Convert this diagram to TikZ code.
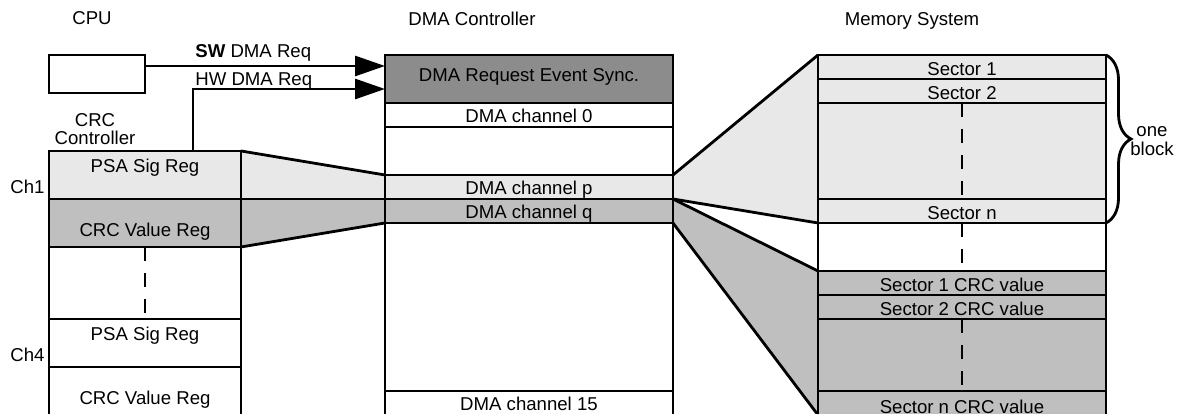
\documentclass[tikz,border=0pt]{standalone}
\usepackage{fontspec}
\setmainfont{Liberation Sans}
\usetikzlibrary{arrows.meta, positioning, decorations.pathreplacing, backgrounds}

\definecolor{lightfill}{gray}{0.91}
\definecolor{midfill}{gray}{0.75}
\definecolor{darkfill}{gray}{0.55}

\begin{document}
\begin{tikzpicture}[
        x=0.5pt, y=-0.5pt,
        inner sep=0pt,
        font=\fontsize{9.3}{11}\selectfont,
        box/.style={rectangle, draw=black, line width=1.4pt, inner sep=0pt, outer sep=0pt},
        regnode/.style={box, minimum width=96pt, minimum height=24pt},
        chnode/.style={box, minimum width=144pt, minimum height=12pt, text height=8pt, text depth=0pt},
        secnode/.style={box, minimum width=144pt, minimum height=12pt, text height=9pt, text depth=0pt},
        psatext/.style={text height=6pt, text depth=8pt},
        valtext/.style={text height=14pt, text depth=0pt},
        gapdash/.style={line width=1.4pt, dash pattern=on 7pt off 6pt},
        reqarrow/.style={-{Triangle[length=15pt, width=10pt]}, line width=1.4pt},
        fanline/.style={line width=1.4pt}
    ]
    \useasboundingbox (0,0) rectangle (1183,415);
    \clip (-10,-10) rectangle (1193,414);

    % Column headings
    \node[anchor=base] (cpulbl) at (92,25) {CPU};
    \node[anchor=base] (dmalbl) at (472,26) {DMA Controller};
    \node[anchor=base] (memlbl) at (912,26) {Memory System};
    \node[align=center, font=\fontsize{9.3}{9}\selectfont] (crclbl) at (95,129.5) {CRC\\Controller};

    % CPU
    \node[box, minimum width=48pt, minimum height=19pt, anchor=north west] (cpu) at (49,55) {};

    % CRC controller registers
    \node[regnode, fill=lightfill, psatext, anchor=north west] (psa1) at (49,151) {PSA Sig Reg};
    \node[regnode, fill=midfill, valtext, below=0pt of psa1] (val1) {CRC Value Reg};
    \node[regnode, minimum height=36pt, below=0pt of val1] (reggap) {};
    \node[regnode, psatext, below=0pt of reggap] (psa4) {PSA Sig Reg};
    \node[regnode, valtext, below=0pt of psa4] (val4) {CRC Value Reg};
    \node[anchor=base west] (ch1lbl) at (10,194) {Ch1};
    \node[anchor=base west] (ch4lbl) at (10,362) {Ch4};

    % DMA controller
    \node[chnode, fill=darkfill, minimum height=24pt, text depth=5pt, anchor=north west] (sync) at (385,55) {DMA Request Event Sync.};
    \node[chnode, below=0pt of sync] (ch0) {DMA channel 0};
    \node[chnode, minimum height=24pt, below=0pt of ch0] (dmagap1) {};
    \node[chnode, fill=lightfill, below=0pt of dmagap1] (chp) {DMA channel p};
    \node[chnode, fill=midfill, below=0pt of chp] (chq) {DMA channel q};
    \node[chnode, minimum height=84pt, below=0pt of chq] (dmagap2) {};
    \node[chnode, below=0pt of dmagap2] (ch15) {DMA channel 15};

    % Memory system
    \node[secnode, fill=lightfill, anchor=north west] (sec1) at (818,55) {Sector 1};
    \node[secnode, fill=lightfill, below=0pt of sec1] (sec2) {Sector 2};
    \node[secnode, fill=lightfill, minimum height=48pt, below=0pt of sec2] (secgap) {};
    \node[secnode, fill=lightfill, below=0pt of secgap] (secn) {Sector n};
    \node[secnode, minimum height=24pt, below=0pt of secn] (memgap) {};
    \node[secnode, fill=midfill, below=0pt of memgap] (crc1) {Sector 1 CRC value};
    \node[secnode, fill=midfill, below=0pt of crc1] (crc2) {Sector 2 CRC value};
    \node[secnode, fill=midfill, minimum height=36pt, below=0pt of crc2] (crcgap) {};
    \node[secnode, fill=midfill, text height=11pt, below=0pt of crcgap] (crcn) {Sector n CRC value};

    % Fans between the columns
    \begin{scope}[on background layer]
        \fill[lightfill] (psa1.north east) -- (chp.north west) -- (chp.south west) -- (psa1.south east) -- cycle;
        \fill[midfill] (val1.north east) -- (chq.north west) -- (chq.south west) -- (val1.south east) -- cycle;
        \fill[lightfill] (chp.north east) -- (sec1.north west) -- (secn.south west) -- (chp.south east) -- cycle;
        \fill[midfill] (chq.north east) -- (crc1.north west) -- (crcn.south west) -- (chq.south east) -- cycle;
    \end{scope}
    \draw[fanline] (psa1.north east) -- (chp.north west);
    \draw[fanline] (val1.north east) -- (chq.north west);
    \draw[fanline] (val1.south east) -- (chq.south west);
    \draw[fanline] (chp.north east) -- (sec1.north west);
    \draw[fanline] (chp.south east) -- (secn.south west);
    \draw[fanline] (chq.north east) -- (crc1.north west);
    \draw[fanline] (chq.south east) -- (crcn.south west);

    % Gaps
    \draw[gapdash] (reggap.north) -- (reggap.south);
    \draw[gapdash] (secgap.north) -- (secgap.south);
    \draw[gapdash] (memgap.north) -- (memgap.south);
    \draw[gapdash] (crcgap.north) -- (crcgap.south);

    % Requests
    \draw[reqarrow] ([yshift=4pt]cpu.east) -- ([yshift=6.5pt]sync.west);
    \draw[reqarrow] ([xshift=24pt]psa1.north) |- ([yshift=-5pt]sync.west);
    \node[anchor=base west] (swlbl) at (195,58) {\textbf{SW} DMA Req};
    \node[anchor=base west] (hwlbl) at (195,86) {HW DMA Req};

    % Block brace
    \draw[line width=1.4pt, decorate, decoration={brace, amplitude=12.5pt}] (sec1.north east) -- (secn.south east);
    \node[align=center] (blocklbl) at (1152,141.5) {one\\[-1.5pt]block};

\end{tikzpicture}
\end{document}
